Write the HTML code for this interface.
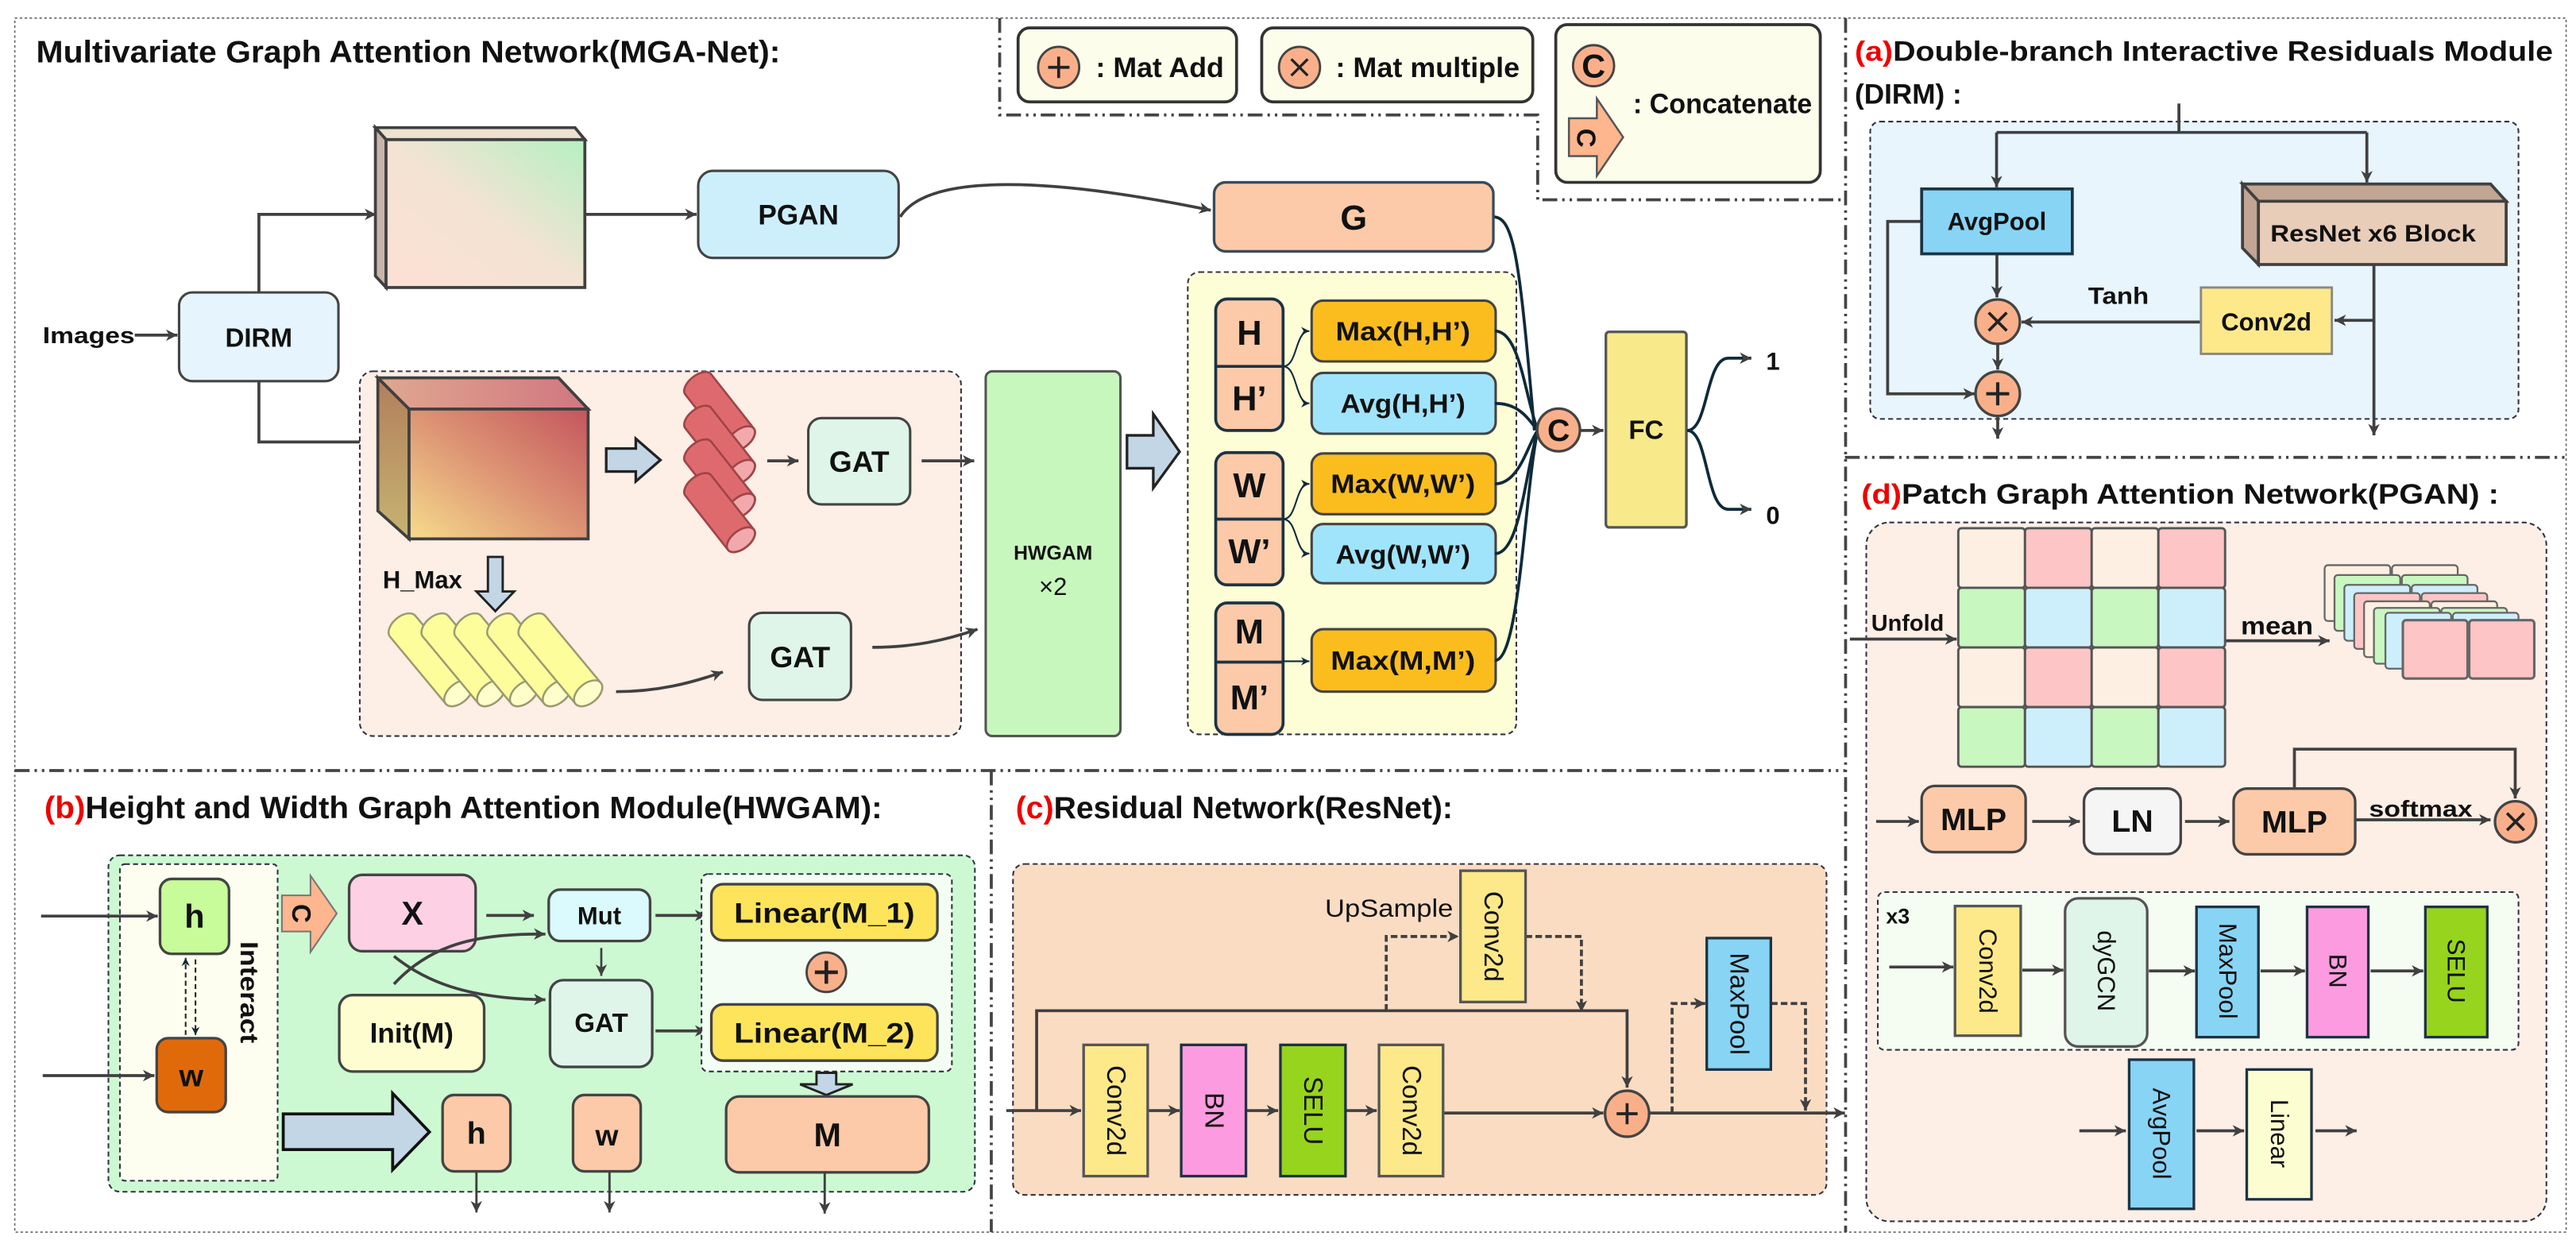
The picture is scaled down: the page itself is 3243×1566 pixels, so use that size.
<!DOCTYPE html>
<html><head><meta charset="utf-8"><style>
html,body{margin:0;padding:0;background:#fff;}
svg{display:block;}
.n{font-family:"Liberation Sans Narrow","Liberation Sans",sans-serif;font-weight:bold;fill:#111;}
.b{font-family:"Liberation Sans",sans-serif;font-weight:bold;fill:#111;}
.r{font-family:"Liberation Sans",sans-serif;fill:#111;}
.red{fill:#e00;}
</style></head><body>
<svg width="3243" height="1566" viewBox="0 0 1568 757.2" preserveAspectRatio="none" xmlns="http://www.w3.org/2000/svg">
<defs>
<marker id="a" markerWidth="8" markerHeight="8" refX="7" refY="4" orient="auto" markerUnits="userSpaceOnUse"><path d="M0,0.5 L7,4 L0,7.5 L2,4 Z" fill="#404040"/></marker>
<marker id="as" markerWidth="6" markerHeight="6" refX="5" refY="3" orient="auto" markerUnits="userSpaceOnUse"><path d="M0,0.5 L5,3 L0,5.5 L1.5,3 Z" fill="#0f2a3a"/></marker>
<linearGradient id="g1" x1="0" y1="1" x2="1" y2="0"><stop offset="0" stop-color="#fde0d4"/><stop offset="0.5" stop-color="#f3e3d2"/><stop offset="1" stop-color="#b5f0c2"/></linearGradient>
<linearGradient id="g2" x1="0" y1="1" x2="1" y2="0"><stop offset="0" stop-color="#f6dc8c"/><stop offset="0.5" stop-color="#dd9474"/><stop offset="1" stop-color="#c4555d"/></linearGradient>
<linearGradient id="g2t" x1="0" y1="0" x2="1" y2="0"><stop offset="0" stop-color="#e0a890"/><stop offset="1" stop-color="#d17680"/></linearGradient>
<linearGradient id="g2l" x1="0" y1="0" x2="0" y2="1"><stop offset="0" stop-color="#b37e5c"/><stop offset="1" stop-color="#c4b470"/></linearGradient>
</defs>

<!-- outer border & separators -->
<rect x="9" y="11" width="1553" height="739" fill="none" stroke="#666" stroke-width="0.8" stroke-dasharray="1.5 1.5"/>
<g fill="none" stroke="#444" stroke-width="1.8" stroke-dasharray="9 3 1.5 3 1.5 3">
<path d="M9 469 H1123"/>
<path d="M603.4 469 V750"/>
<path d="M1123.4 11 V750"/>
<path d="M1123 278.4 H1562"/>
<path d="M608.5 11 V70 H936 V121.6 H1123"/>
</g>

<!-- ===== MGA-Net ===== -->
<text class="n" x="22" y="38" font-size="19" textLength="453" lengthAdjust="spacingAndGlyphs">Multivariate Graph Attention Network(MGA-Net):</text>

<text class="n" x="26" y="209" font-size="14" textLength="56" lengthAdjust="spacingAndGlyphs">Images</text>
<path d="M82 204 H108" stroke="#404040" stroke-width="1.8" marker-end="url(#a)"/>
<rect x="109" y="178" width="97" height="54" rx="8" fill="#e6f5fd" stroke="#444" stroke-width="1.5"/>
<text class="n" x="157.5" y="206" font-size="16" text-anchor="middle" dominant-baseline="central">DIRM</text>

<path d="M157.6 178 V130.5 H229" fill="none" stroke="#404040" stroke-width="1.8" marker-end="url(#a)"/>
<path d="M157.6 232 V269 H230" fill="none" stroke="#404040" stroke-width="1.8" marker-end="url(#a)"/>

<!-- cube1 -->
<polygon points="228.5,77.7 350,77.7 356,85 235,85" fill="#ece2cf" stroke="#404040" stroke-width="1.8"/>
<polygon points="228.5,77.7 235,85 235,175 228.5,168" fill="#c9b4aa" stroke="#404040" stroke-width="1.8"/>
<rect x="235" y="85" width="121" height="90" fill="url(#g1)" stroke="#404040" stroke-width="1.8"/>
<path d="M356 130.5 H424" stroke="#404040" stroke-width="1.8" marker-end="url(#a)"/>
<rect x="425" y="104" width="122" height="53" rx="9" fill="#cdeffb" stroke="#444" stroke-width="1.5"/>
<text class="n" x="486" y="131" font-size="17" text-anchor="middle" dominant-baseline="central">PGAN</text>
<path d="M548 132 C565 105, 640 108, 737 128" fill="none" stroke="#404040" stroke-width="1.8" marker-end="url(#a)"/>

<!-- pink region -->
<rect x="219" y="226" width="366" height="222" rx="8" fill="#fdeee6" stroke="#334" stroke-width="1" stroke-dasharray="3 2"/>
<!-- cube2 -->
<polygon points="230,230 340,230 358,249 249,249" fill="url(#g2t)" stroke="#404040" stroke-width="1.8"/>
<polygon points="230,230 249,249 249,328 230,311" fill="url(#g2l)" stroke="#404040" stroke-width="1.8"/>
<rect x="249" y="249" width="109" height="79" fill="url(#g2)" stroke="#404040" stroke-width="1.8"/>
<!-- blue arrow -->
<polygon points="369,273 387,273 387,267 402,280 387,293 387,287 369,287" fill="#c3d6e6" stroke="#222" stroke-width="1.6"/>
<!-- red cylinders -->
<g stroke="#a04548" stroke-width="1.3">
<g transform="translate(451,267) rotate(51.8)"><path d="M-42,-10 H0 A5.5 10 0 0 1 0 10 H-42 A5.5 10 0 0 1 -42 -10 Z" fill="#df6a6e"/><ellipse cx="0" cy="0" rx="5.5" ry="10" fill="#f2a9ac"/></g>
<g transform="translate(451,287.5) rotate(51.8)"><path d="M-42,-10 H0 A5.5 10 0 0 1 0 10 H-42 A5.5 10 0 0 1 -42 -10 Z" fill="#df6a6e"/><ellipse cx="0" cy="0" rx="5.5" ry="10" fill="#f2a9ac"/></g>
<g transform="translate(451,308) rotate(51.8)"><path d="M-42,-10 H0 A5.5 10 0 0 1 0 10 H-42 A5.5 10 0 0 1 -42 -10 Z" fill="#df6a6e"/><ellipse cx="0" cy="0" rx="5.5" ry="10" fill="#f2a9ac"/></g>
<g transform="translate(451,328.5) rotate(51.8)"><path d="M-42,-10 H0 A5.5 10 0 0 1 0 10 H-42 A5.5 10 0 0 1 -42 -10 Z" fill="#df6a6e"/><ellipse cx="0" cy="0" rx="5.5" ry="10" fill="#f2a9ac"/></g>
</g>
<path d="M467 280.5 H486" stroke="#404040" stroke-width="1.8" marker-end="url(#a)"/>
<rect x="492" y="254.5" width="62" height="52.5" rx="8" fill="#e0f5ea" stroke="#444" stroke-width="1.5"/>
<text class="n" x="523" y="281" font-size="18" text-anchor="middle" dominant-baseline="central">GAT</text>
<path d="M561 280.5 H593" stroke="#404040" stroke-width="1.8" marker-end="url(#a)"/>

<text class="n" x="233" y="358" font-size="15">H_Max</text>
<polygon points="297,339 306,339 306,360 313,360 301.5,372 290,360 297,360" fill="#c3d6e6" stroke="#222" stroke-width="1.4"/>
<!-- yellow cylinders -->
<g stroke="#9a9a70" stroke-width="1.2">
<g transform="translate(279,422) rotate(50.3)"><path d="M-53,-10 H0 A6 10 0 0 1 0 10 H-53 A6 10 0 0 1 -53 -10 Z" fill="#fdfd9c"/><ellipse cx="0" cy="0" rx="6" ry="10" fill="#fefecb"/></g>
<g transform="translate(299,422) rotate(50.3)"><path d="M-53,-10 H0 A6 10 0 0 1 0 10 H-53 A6 10 0 0 1 -53 -10 Z" fill="#fdfd9c"/><ellipse cx="0" cy="0" rx="6" ry="10" fill="#fefecb"/></g>
<g transform="translate(319,422) rotate(50.3)"><path d="M-53,-10 H0 A6 10 0 0 1 0 10 H-53 A6 10 0 0 1 -53 -10 Z" fill="#fdfd9c"/><ellipse cx="0" cy="0" rx="6" ry="10" fill="#fefecb"/></g>
<g transform="translate(339,422) rotate(50.3)"><path d="M-53,-10 H0 A6 10 0 0 1 0 10 H-53 A6 10 0 0 1 -53 -10 Z" fill="#fdfd9c"/><ellipse cx="0" cy="0" rx="6" ry="10" fill="#fefecb"/></g>
<g transform="translate(358,422) rotate(50.3)"><path d="M-53,-10 H0 A6 10 0 0 1 0 10 H-53 A6 10 0 0 1 -53 -10 Z" fill="#fdfd9c"/><ellipse cx="0" cy="0" rx="6" ry="10" fill="#fefecb"/></g>
</g>
<path d="M375 421 C400 421, 420 416, 440 409" fill="none" stroke="#404040" stroke-width="1.8" marker-end="url(#a)"/>
<rect x="456" y="373" width="62" height="53" rx="8" fill="#e0f5ea" stroke="#444" stroke-width="1.5"/>
<text class="n" x="487" y="400" font-size="18" text-anchor="middle" dominant-baseline="central">GAT</text>
<path d="M531 394 C555 394, 575 390, 595 383" fill="none" stroke="#404040" stroke-width="1.8" marker-end="url(#a)"/>

<!-- HWGAM -->
<rect x="600" y="226" width="82" height="222" rx="4" fill="#c8f7be" stroke="#555" stroke-width="1.5"/>
<text class="r" x="641" y="337" font-size="12" text-anchor="middle" dominant-baseline="central" font-weight="bold">HWGAM</text>
<text class="r" x="641" y="357" font-size="15" text-anchor="middle" dominant-baseline="central">×2</text>
<polygon points="686,265 702,265 702,252 718,275 702,297 702,285 686,285" fill="#c3d6e6" stroke="#222" stroke-width="1.6"/>

<!-- yellow region -->
<rect x="723" y="165.6" width="200" height="281.4" rx="7" fill="#fdfdd6" stroke="#334" stroke-width="1" stroke-dasharray="3 2"/>
<g stroke="#1d3344" stroke-width="1.8">
<rect x="740" y="182" width="41" height="80" rx="7" fill="#fccaa8"/><path d="M740 223 H781"/>
<rect x="740" y="275.5" width="41" height="80.5" rx="7" fill="#fccaa8"/><path d="M740 316 H781"/>
<rect x="740" y="367" width="41" height="80" rx="7" fill="#fccaa8"/><path d="M740 403 H781"/>
</g>
<g class="b" font-size="21" text-anchor="middle" dominant-baseline="central">
<text x="760.5" y="203">H</text><text x="760.5" y="243">H’</text>
<text x="760.5" y="296">W</text><text x="760.5" y="336">W’</text>
<text x="760.5" y="385">M</text><text x="760.5" y="425">M’</text>
</g>
<g stroke="#444" stroke-width="1.5">
<rect x="798.4" y="183" width="112" height="37" rx="7" fill="#fbbd1e"/>
<rect x="798.4" y="227" width="112" height="37" rx="7" fill="#a0e4fb"/>
<rect x="798.4" y="276" width="112" height="37" rx="7" fill="#fbbd1e"/>
<rect x="798.4" y="319" width="112" height="36" rx="7" fill="#a0e4fb"/>
<rect x="798.4" y="383" width="112" height="38" rx="7" fill="#fbbd1e"/>
</g>
<g class="n" font-size="16" text-anchor="middle" dominant-baseline="central">
<text x="854" y="202" textLength="82" lengthAdjust="spacingAndGlyphs">Max(H,H’)</text>
<text x="854" y="246" textLength="76" lengthAdjust="spacingAndGlyphs">Avg(H,H’)</text>
<text x="854" y="295" textLength="88" lengthAdjust="spacingAndGlyphs">Max(W,W’)</text>
<text x="854" y="338" textLength="82" lengthAdjust="spacingAndGlyphs">Avg(W,W’)</text>
<text x="854" y="402.5" textLength="88" lengthAdjust="spacingAndGlyphs">Max(M,M’)</text>
</g>
<g fill="none" stroke="#0f2a3a" stroke-width="1">
<path d="M781 223 C790 223, 788 201.5, 797 201.5" marker-end="url(#as)"/>
<path d="M781 223 C790 223, 788 245.5, 797 245.5" marker-end="url(#as)"/>
<path d="M781 316 C790 316, 788 294.5, 797 294.5" marker-end="url(#as)"/>
<path d="M781 316 C790 316, 788 337, 797 337" marker-end="url(#as)"/>
<path d="M781 402.5 H797" marker-end="url(#as)"/>
</g>
<g fill="none" stroke="#0f2a3a" stroke-width="1.8">
<path d="M909 132 C922 132, 925 160, 934 262"/>
<path d="M910 201.5 C925 201.5, 928 240, 936 262"/>
<path d="M910 245.5 C925 245.5, 930 255, 936 262"/>
<path d="M910 294.5 C925 294.5, 930 270, 936 262"/>
<path d="M910 337 C925 337, 928 290, 936 262"/>
<path d="M910 402 C925 402, 928 300, 936 262"/>
</g>
<circle cx="948.7" cy="261.7" r="13" fill="#f9b08a" stroke="#444" stroke-width="1.6"/>
<text class="n" x="948.7" y="262" font-size="19" text-anchor="middle" dominant-baseline="central">C</text>
<path d="M962 262 H976" stroke="#404040" stroke-width="1.8" marker-end="url(#a)"/>
<rect x="977.5" y="202" width="49" height="119" rx="2" fill="#f8e98a" stroke="#555" stroke-width="1.6"/>
<text class="n" x="1002" y="262" font-size="16" text-anchor="middle" dominant-baseline="central">FC</text>
<path d="M1027 262 C1040 262, 1038 218, 1052 218 H1066" fill="none" stroke="#0f2a3a" stroke-width="1.8" marker-end="url(#a)"/>
<path d="M1027 262 C1040 262, 1038 310, 1052 310 H1066" fill="none" stroke="#0f2a3a" stroke-width="1.8" marker-end="url(#a)"/>
<text class="b" x="1075" y="225" font-size="15">1</text>
<text class="b" x="1075" y="319" font-size="15">0</text>

<!-- G box -->
<rect x="739" y="111" width="170" height="42" rx="7" fill="#fccaa8" stroke="#3a4a5a" stroke-width="1.6"/>
<text class="b" x="824" y="133" font-size="21" text-anchor="middle" dominant-baseline="central">G</text>

<!-- legend -->
<rect x="619.7" y="17" width="133" height="45" rx="7" fill="#fdfdeb" stroke="#333" stroke-width="1.8"/>
<circle cx="644.4" cy="41" r="12.5" fill="#f9b08a" stroke="#444" stroke-width="1.4"/>
<path d="M638 41 H651 M644.4 34.5 V47.5" stroke="#222" stroke-width="1.8"/>
<text class="n" x="667" y="47" font-size="17" textLength="78" lengthAdjust="spacingAndGlyphs">: Mat Add</text>
<rect x="768" y="17" width="165" height="45" rx="7" fill="#fdfdeb" stroke="#333" stroke-width="1.8"/>
<circle cx="791" cy="41" r="12.5" fill="#f9b08a" stroke="#444" stroke-width="1.4"/>
<path d="M786 36 L796 46 M796 36 L786 46" stroke="#222" stroke-width="1.6"/>
<text class="n" x="813" y="47" font-size="17" textLength="112" lengthAdjust="spacingAndGlyphs">: Mat multiple</text>
<rect x="947" y="15" width="161" height="96" rx="7" fill="#fdfdeb" stroke="#333" stroke-width="1.8"/>
<circle cx="970" cy="40" r="12.5" fill="#f9b08a" stroke="#444" stroke-width="1.4"/>
<text class="n" x="970" y="40.5" font-size="20" text-anchor="middle" dominant-baseline="central">C</text>
<polygon points="955,72 972,72 972,60 988,83.5 972,107 972,95 955,95" fill="#fdb68e" stroke="#555" stroke-width="1.2"/>
<text class="n" x="0" y="0" font-size="16" text-anchor="middle" dominant-baseline="central" transform="translate(965,84) rotate(90)">C</text>
<text class="n" x="994" y="69" font-size="17" textLength="109" lengthAdjust="spacingAndGlyphs">: Concatenate</text>

<!-- ===== (a) DIRM ===== -->
<text class="b" x="1129" y="37" font-size="17" textLength="425" lengthAdjust="spacingAndGlyphs"><tspan class="red">(a)</tspan>Double-branch Interactive Residuals Module</text>
<text class="b" x="1129" y="63" font-size="17">(DIRM) :</text>
<rect x="1138.4" y="74" width="394.6" height="181" rx="6" fill="#e8f5fd" stroke="#334" stroke-width="1" stroke-dasharray="3 2"/>
<g fill="none" stroke="#404040" stroke-width="1.8">
<path d="M1326.3 63 V80.6"/>
<path d="M1215.3 80.6 H1440.7"/>
<path d="M1215.3 80.6 V114" marker-end="url(#a)"/>
<path d="M1440.7 80.6 V111" marker-end="url(#a)"/>
<path d="M1215.5 154.5 V181" marker-end="url(#a)"/>
<path d="M1169.7 134.8 H1149 V239.7 H1202" marker-end="url(#a)"/>
<path d="M1216 209.5 V225" marker-end="url(#a)"/>
<path d="M1216 253.5 V267" marker-end="url(#a)"/>
<path d="M1445 161 V265" marker-end="url(#a)"/>
<path d="M1445 195 H1421" marker-end="url(#a)"/>
<path d="M1339.7 196 H1230.5" marker-end="url(#a)"/>
</g>
<rect x="1169.7" y="115" width="91.7" height="39.5" fill="#88d4f5" stroke="#1d3344" stroke-width="1.8"/>
<text class="b" x="1215.5" y="135" font-size="15" text-anchor="middle" dominant-baseline="central">AvgPool</text>
<polygon points="1365,112 1516,112 1525.5,122.5 1374.7,122.5" fill="#c2a592" stroke="#404040" stroke-width="1.8"/>
<polygon points="1365,112 1374.7,122.5 1374.7,161 1365,151" fill="#c2a592" stroke="#404040" stroke-width="1.8"/>
<rect x="1374.7" y="122.5" width="150.8" height="38.5" fill="#e8cdb9" stroke="#404040" stroke-width="1.8"/>
<text class="b" x="1382" y="147" font-size="14.5" textLength="125" lengthAdjust="spacingAndGlyphs">ResNet x6 Block</text>
<circle cx="1216" cy="195.8" r="13.5" fill="#f9b08a" stroke="#444" stroke-width="1.6"/>
<path d="M1210.5 190.3 L1221.5 201.3 M1221.5 190.3 L1210.5 201.3" stroke="#222" stroke-width="1.8"/>
<circle cx="1216" cy="239.7" r="13.5" fill="#f9b08a" stroke="#444" stroke-width="1.6"/>
<path d="M1209 239.7 H1223 M1216 232.7 V246.7" stroke="#222" stroke-width="2"/>
<rect x="1339.7" y="175" width="79.7" height="40.4" fill="#fde98a" stroke="#888" stroke-width="1.4"/>
<text class="b" x="1379.5" y="196" font-size="15" text-anchor="middle" dominant-baseline="central">Conv2d</text>
<text class="b" x="1271" y="185" font-size="14.5" textLength="37" lengthAdjust="spacingAndGlyphs">Tanh</text>

<!-- ===== (d) PGAN ===== -->
<text class="b" x="1133" y="306.5" font-size="17" textLength="388" lengthAdjust="spacingAndGlyphs"><tspan class="red">(d)</tspan>Patch Graph Attention Network(PGAN) :</text>
<rect x="1136" y="318" width="414" height="425.4" rx="14" fill="#fdeee6" stroke="#334" stroke-width="1" stroke-dasharray="3 2"/>
<g stroke="#555" stroke-width="1.4">
<rect x="1192" y="321.5" width="40.6" height="36.3" rx="2" fill="#fdf0e2"/>
<rect x="1232.6" y="321.5" width="40.6" height="36.3" rx="2" fill="#fdc5c5"/>
<rect x="1273.2" y="321.5" width="40.6" height="36.3" rx="2" fill="#fdf0e2"/>
<rect x="1313.8" y="321.5" width="40.6" height="36.3" rx="2" fill="#fdc5c5"/>
<rect x="1192" y="357.8" width="40.6" height="36.3" rx="2" fill="#c8f7c0"/>
<rect x="1232.6" y="357.8" width="40.6" height="36.3" rx="2" fill="#cdeffb"/>
<rect x="1273.2" y="357.8" width="40.6" height="36.3" rx="2" fill="#c8f7c0"/>
<rect x="1313.8" y="357.8" width="40.6" height="36.3" rx="2" fill="#cdeffb"/>
<rect x="1192" y="394.1" width="40.6" height="36.3" rx="2" fill="#fdf0e2"/>
<rect x="1232.6" y="394.1" width="40.6" height="36.3" rx="2" fill="#fdc5c5"/>
<rect x="1273.2" y="394.1" width="40.6" height="36.3" rx="2" fill="#fdf0e2"/>
<rect x="1313.8" y="394.1" width="40.6" height="36.3" rx="2" fill="#fdc5c5"/>
<rect x="1192" y="430.4" width="40.6" height="36.3" rx="2" fill="#c8f7c0"/>
<rect x="1232.6" y="430.4" width="40.6" height="36.3" rx="2" fill="#cdeffb"/>
<rect x="1273.2" y="430.4" width="40.6" height="36.3" rx="2" fill="#c8f7c0"/>
<rect x="1313.8" y="430.4" width="40.6" height="36.3" rx="2" fill="#cdeffb"/>
</g>
<text class="b" x="1139" y="384" font-size="14">Unfold</text>
<path d="M1126 389 H1191" stroke="#404040" stroke-width="1.8" marker-end="url(#a)"/>
<text class="b" x="1364" y="386" font-size="15" textLength="44" lengthAdjust="spacingAndGlyphs">mean</text>
<path d="M1355 390 H1418" stroke="#404040" stroke-width="1.8" marker-end="url(#a)"/>
<!-- stacked patches -->
<g stroke="#666" stroke-width="1.1">
<rect x="1415" y="344" width="40" height="34" rx="2" fill="#fdf0e2"/><rect x="1456" y="344" width="40" height="34" rx="2" fill="#fdf0e2"/>
<rect x="1421" y="350" width="40" height="34" rx="2" fill="#c8f7c0"/><rect x="1462" y="350" width="40" height="34" rx="2" fill="#c8f7c0"/>
<rect x="1427" y="356" width="40" height="34" rx="2" fill="#cdeffb"/><rect x="1468" y="356" width="40" height="34" rx="2" fill="#cdeffb"/>
<rect x="1433" y="361" width="40" height="34" rx="2" fill="#fdc5c5"/><rect x="1474" y="361" width="40" height="34" rx="2" fill="#fdc5c5"/>
<rect x="1439" y="366" width="40" height="34" rx="2" fill="#fdf0e2"/><rect x="1480" y="366" width="40" height="34" rx="2" fill="#fdf0e2"/>
<rect x="1445" y="370" width="40" height="34" rx="2" fill="#c8f7c0"/><rect x="1486" y="370" width="40" height="34" rx="2" fill="#c8f7c0"/>
<rect x="1452" y="373" width="40" height="34" rx="2" fill="#cdeffb"/><rect x="1493" y="373" width="40" height="34" rx="2" fill="#cdeffb"/>
<rect x="1462.6" y="377.5" width="39.4" height="35.5" rx="2" fill="#fdc5c5" stroke-width="1.5"/><rect x="1503" y="377.5" width="39.6" height="35.5" rx="2" fill="#fdc5c5" stroke-width="1.5"/>
</g>
<!-- MLP row -->
<g fill="none" stroke="#404040" stroke-width="1.8">
<path d="M1142 500 H1168" marker-end="url(#a)"/>
<path d="M1237 500 H1266" marker-end="url(#a)"/>
<path d="M1330 500 H1357" marker-end="url(#a)"/>
<path d="M1434 499 H1516" marker-end="url(#a)"/>
<path d="M1396.6 480 V456 H1531 V486" marker-end="url(#a)"/>
</g>
<rect x="1169.7" y="478.4" width="63.3" height="40.3" rx="8" fill="#fccaa8" stroke="#444" stroke-width="1.6"/>
<text class="n" x="1201.3" y="499" font-size="19" text-anchor="middle" dominant-baseline="central">MLP</text>
<rect x="1268.5" y="480" width="58.9" height="39.8" rx="8" fill="#f5f5f5" stroke="#444" stroke-width="1.6"/>
<text class="n" x="1298" y="500" font-size="19" text-anchor="middle" dominant-baseline="central">LN</text>
<rect x="1359.6" y="480" width="74" height="40" rx="8" fill="#fccaa8" stroke="#444" stroke-width="1.6"/>
<text class="n" x="1396.6" y="500.5" font-size="19" text-anchor="middle" dominant-baseline="central">MLP</text>
<text class="n" x="1442" y="497" font-size="14" textLength="63" lengthAdjust="spacingAndGlyphs">softmax</text>
<circle cx="1531.2" cy="500.2" r="12.5" fill="#f9b08a" stroke="#444" stroke-width="1.6"/>
<path d="M1526 495 L1536.4 505.4 M1536.4 495 L1526 505.4" stroke="#222" stroke-width="1.8"/>
<!-- x3 box -->
<rect x="1143" y="543" width="390" height="96" rx="4" fill="#f5fdf3" stroke="#334" stroke-width="1" stroke-dasharray="3 2"/>
<text class="n" x="1148" y="562" font-size="13">x3</text>
<g fill="none" stroke="#404040" stroke-width="1.8">
<path d="M1150 588.6 H1189" marker-end="url(#a)"/>
<path d="M1231 590.5 H1256" marker-end="url(#a)"/>
<path d="M1308 591 H1336" marker-end="url(#a)"/>
<path d="M1376 591 H1403" marker-end="url(#a)"/>
<path d="M1443 591 H1475" marker-end="url(#a)"/>
<path d="M1265.7 688.3 H1294" marker-end="url(#a)"/>
<path d="M1337 688.3 H1366" marker-end="url(#a)"/>
<path d="M1409.4 688.3 H1434.5" marker-end="url(#a)"/>
</g>
<rect x="1190" y="551.5" width="40" height="78.9" fill="#fde98a" stroke="#555" stroke-width="1.6"/>
<rect x="1257" y="546.8" width="50" height="90.2" rx="8" fill="#e0f5ea" stroke="#555" stroke-width="1.6"/>
<rect x="1337" y="552" width="37.7" height="79.3" fill="#88d4f5" stroke="#1d3344" stroke-width="1.6"/>
<rect x="1404.3" y="552" width="37.3" height="79.3" fill="#fd9be1" stroke="#1d3344" stroke-width="1.6"/>
<rect x="1476.3" y="552" width="37.7" height="79.3" fill="#97d41d" stroke="#1d3344" stroke-width="1.6"/>
<rect x="1296" y="645" width="39.4" height="90.8" fill="#88d4f5" stroke="#1d3344" stroke-width="1.6"/>
<rect x="1367.6" y="651" width="39.4" height="79" fill="#fdfdd2" stroke="#1d3344" stroke-width="1.6"/>
<g class="r" font-size="15" text-anchor="middle" dominant-baseline="central">
<text transform="translate(1210,591) rotate(90)">Conv2d</text>
<text transform="translate(1282,591) rotate(90)">dyGCN</text>
<text transform="translate(1356,591) rotate(90)">MaxPool</text>
<text transform="translate(1423,591) rotate(90)">BN</text>
<text transform="translate(1495,591) rotate(90)">SELU</text>
<text transform="translate(1315.7,690) rotate(90)">AvgPool</text>
<text transform="translate(1387.3,690) rotate(90)">Linear</text>
</g>

<!-- ===== (b) HWGAM ===== -->
<text class="n" x="27" y="498" font-size="19" textLength="510" lengthAdjust="spacingAndGlyphs"><tspan class="red">(b)</tspan>Height and Width Graph Attention Module(HWGAM):</text>
<rect x="66" y="520.6" width="527.4" height="204.8" rx="7" fill="#ccf9d2" stroke="#334" stroke-width="1" stroke-dasharray="3 2"/>
<rect x="73" y="526" width="96" height="192.7" rx="3" fill="#fefef0" stroke="#334" stroke-width="1" stroke-dasharray="3 2"/>
<g fill="none" stroke="#404040" stroke-width="1.8">
<path d="M25 557.6 H96" marker-end="url(#a)"/>
<path d="M26 654.7 H94" marker-end="url(#a)"/>
</g>
<g fill="none" stroke="#222" stroke-width="1" stroke-dasharray="3 2">
<path d="M113 630 V583" marker-end="url(#as)"/>
<path d="M119 584 V630" marker-end="url(#as)"/>
</g>
<rect x="97.4" y="535" width="42" height="45.6" rx="7" fill="#c8fb9a" stroke="#444" stroke-width="1.6"/>
<text class="n" x="118.4" y="558" font-size="20" text-anchor="middle" dominant-baseline="central">h</text>
<rect x="95.4" y="631.9" width="42" height="45" rx="7" fill="#e06a0a" stroke="#444" stroke-width="1.6"/>
<text class="n" x="116.4" y="655" font-size="19" text-anchor="middle" dominant-baseline="central">w</text>
<text class="b" font-size="15" text-anchor="middle" dominant-baseline="central" transform="translate(151.6,604) rotate(90)" textLength="62" lengthAdjust="spacingAndGlyphs">Interact</text>
<polygon points="171.6,545 189,545 189,533 205,556 189,579.5 189,567 171.6,567" fill="#fdb68e" stroke="#777" stroke-width="1"/>
<text class="n" font-size="16" text-anchor="middle" dominant-baseline="central" transform="translate(183,556) rotate(90)">C</text>
<rect x="212.5" y="532.5" width="77" height="46.5" rx="8" fill="#fdd0e4" stroke="#444" stroke-width="1.6"/>
<text class="n" x="251" y="556" font-size="20" text-anchor="middle" dominant-baseline="central">X</text>
<rect x="206.5" y="605.7" width="88.2" height="46.5" rx="8" fill="#fdfdd0" stroke="#444" stroke-width="1.6"/>
<text class="n" x="250.6" y="629" font-size="17" text-anchor="middle" dominant-baseline="central">Init(M)</text>
<g fill="none" stroke="#404040" stroke-width="1.8">
<path d="M296 557.2 H325" marker-end="url(#a)"/>
<path d="M399 557.2 H430" marker-end="url(#a)"/>
<path d="M399 627.5 H430" marker-end="url(#a)"/>
<path d="M366 577 V594" marker-end="url(#a)" stroke-width="1.3"/>
<path d="M239.8 599 C262 575, 290 568, 332 568.6" marker-end="url(#a)"/>
<path d="M239.8 582 C262 600, 290 608, 332 608.5" marker-end="url(#a)"/>
</g>
<rect x="334" y="541.5" width="61.7" height="31.3" rx="7" fill="#dafafd" stroke="#444" stroke-width="1.6"/>
<text class="n" x="364.8" y="557.5" font-size="15" text-anchor="middle" dominant-baseline="central">Mut</text>
<rect x="334.8" y="596.6" width="62.2" height="52.8" rx="8" fill="#e0f5ea" stroke="#444" stroke-width="1.6"/>
<text class="n" x="366" y="623" font-size="16" text-anchor="middle" dominant-baseline="central">GAT</text>
<rect x="427" y="532" width="152.4" height="120.2" rx="4" fill="#f3fdf3" stroke="#334" stroke-width="1" stroke-dasharray="3 2"/>
<rect x="433" y="538.2" width="137.6" height="34.2" rx="7" fill="#fde45a" stroke="#444" stroke-width="1.6"/>
<text class="n" x="501.8" y="556" font-size="17" text-anchor="middle" dominant-baseline="central" textLength="110" lengthAdjust="spacingAndGlyphs">Linear(M_1)</text>
<circle cx="503" cy="591.8" r="12" fill="#f9b08a" stroke="#444" stroke-width="1.4"/>
<path d="M496 591.8 H510 M503 584.8 V598.8" stroke="#222" stroke-width="2.2"/>
<rect x="433" y="611.4" width="137.6" height="34.2" rx="7" fill="#fde45a" stroke="#444" stroke-width="1.6"/>
<text class="n" x="501.8" y="629" font-size="17" text-anchor="middle" dominant-baseline="central" textLength="110" lengthAdjust="spacingAndGlyphs">Linear(M_2)</text>
<polygon points="497,653 509,653 509,660 519,660 503,666.5 487,660 497,660" fill="#c3d6e6" stroke="#222" stroke-width="1.4"/>
<polygon points="172.4,678 239,678 239,665.5 261.4,689 239,712 239,699.7 172.4,699.7" fill="#c3d6e6" stroke="#111" stroke-width="1.8"/>
<rect x="269.4" y="666.5" width="41.3" height="46.5" rx="7" fill="#fccaa8" stroke="#444" stroke-width="1.6"/>
<text class="n" x="290" y="690" font-size="19" text-anchor="middle" dominant-baseline="central">h</text>
<rect x="348.8" y="666.5" width="41.2" height="46.5" rx="7" fill="#fccaa8" stroke="#444" stroke-width="1.6"/>
<text class="n" x="369.4" y="691" font-size="18" text-anchor="middle" dominant-baseline="central">w</text>
<rect x="442" y="667.4" width="123.4" height="46.2" rx="8" fill="#fccaa8" stroke="#444" stroke-width="1.6"/>
<text class="n" x="503.7" y="691" font-size="20" text-anchor="middle" dominant-baseline="central">M</text>
<g fill="none" stroke="#404040" stroke-width="1.4">
<path d="M290 713 V738" marker-end="url(#a)"/>
<path d="M371 713 V738" marker-end="url(#a)"/>
<path d="M502 713.6 V738.7" marker-end="url(#a)"/>
</g>

<!-- ===== (c) ResNet ===== -->
<text class="n" x="618.3" y="498" font-size="19" textLength="266" lengthAdjust="spacingAndGlyphs"><tspan class="red">(c)</tspan>Residual Network(ResNet):</text>
<rect x="616.6" y="525.9" width="495.2" height="201.4" rx="7" fill="#fadcc2" stroke="#334" stroke-width="1" stroke-dasharray="3 2"/>
<g fill="none" stroke="#404040" stroke-width="1.8">
<path d="M612.5 676 H658" marker-end="url(#a)"/>
<path d="M698.6 676 H718" marker-end="url(#a)"/>
<path d="M758.4 676 H778" marker-end="url(#a)"/>
<path d="M819 676 H838" marker-end="url(#a)"/>
<path d="M878.4 677.5 H976" marker-end="url(#a)"/>
<path d="M631 676 V615.2 H990.4 V662" marker-end="url(#a)"/>
<path d="M1004 677.5 H1123" marker-end="url(#a)"/>
</g>
<g fill="none" stroke="#404040" stroke-width="1.8" stroke-dasharray="4 2">
<path d="M843.8 615.2 V570 H888" marker-end="url(#a)"/>
<path d="M928.6 570 H962.6 V616" marker-end="url(#a)"/>
<path d="M1017.8 677.5 V610.8 H1038" marker-end="url(#a)"/>
<path d="M1078 610.8 H1099 V676" marker-end="url(#a)"/>
</g>
<rect x="659.6" y="636" width="39" height="79.9" fill="#fde98a" stroke="#555" stroke-width="1.6"/>
<rect x="719" y="636" width="39.4" height="79.9" fill="#fd9be1" stroke="#1d3344" stroke-width="1.6"/>
<rect x="779.4" y="636" width="39.6" height="79.9" fill="#97d41d" stroke="#1d3344" stroke-width="1.6"/>
<rect x="839.4" y="636" width="39" height="79.9" fill="#fde98a" stroke="#555" stroke-width="1.6"/>
<rect x="889" y="530" width="39.6" height="79.9" fill="#fde98a" stroke="#555" stroke-width="1.6"/>
<rect x="1038.9" y="571" width="39" height="80" fill="#88d4f5" stroke="#1d3344" stroke-width="1.6"/>
<g class="r" font-size="16" text-anchor="middle" dominant-baseline="central">
<text transform="translate(679,676) rotate(90)">Conv2d</text>
<text transform="translate(738.7,676) rotate(90)">BN</text>
<text transform="translate(799,676) rotate(90)">SELU</text>
<text transform="translate(859,676) rotate(90)">Conv2d</text>
<text transform="translate(908.8,570) rotate(90)">Conv2d</text>
<text transform="translate(1058.4,611) rotate(90)">MaxPool</text>
</g>
<text class="n" x="806.5" y="558" font-size="15" font-weight="normal" style="font-weight:normal" textLength="78" lengthAdjust="spacingAndGlyphs">UpSample</text>
<ellipse cx="990.4" cy="677.9" rx="13.4" ry="14" fill="#f9b08a" stroke="#444" stroke-width="1.6"/>
<path d="M984 677.9 H996.8 M990.4 671.5 V684.3" stroke="#222" stroke-width="1.8"/>
</svg>
</body></html>
